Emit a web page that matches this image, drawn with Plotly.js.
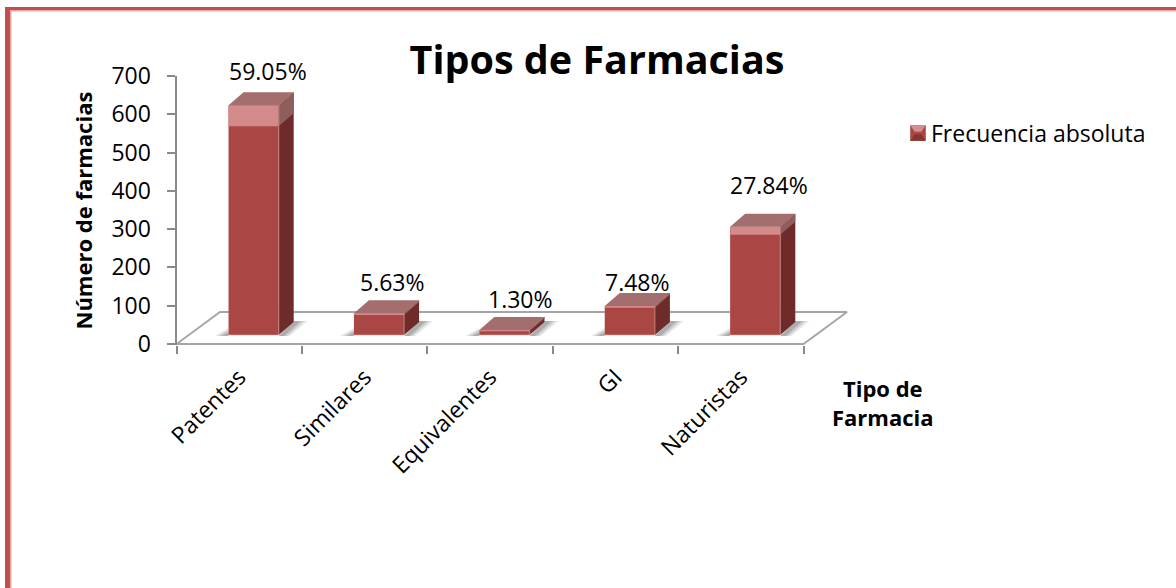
<!DOCTYPE html>
<html><head><meta charset="utf-8">
<script src="https://cdn.plot.ly/plotly-3.0.1.min.js"></script>
<style>html,body{margin:0;padding:0;background:#fff;overflow:hidden}</style>
</head><body><div id="chart" style="width:1176px;height:588px"></div>
<script>
const categories = ["Patentes","Similares","Equivalentes","GI","Naturistas"];
const values = [600, 57, 13, 76, 283];
const highlight = [55, 5, 3, 5, 21];
const percentLabels = ["59.05%","5.63%","1.30%","7.48%","27.84%"];
const seriesName = "Frecuencia absoluta";
const yTicks = [0,100,200,300,400,500,600,700];

const W=1176,H=588, axL=176.5, axR=850, y0=344, y700=76, unitX=125.4;
const unitY=(y0-y700)/700, yMin=-3;
const px2x=p=>p/unitX, px2y=p=>p/unitY;
const FONT='"Open Sans","Noto Sans",sans-serif';
const barW=0.4, barOff=-0.085, barBase=px2y(9);
const depthX=px2x(15), depthY=px2y(13);
const floorX=px2x(43.5), floorY=px2y(32);
const labelShift=[[29,-21],[28,-18],[30,-18],[22,-11],[28,-29]];

function poly(list){const x=[],y=[];list.forEach(p=>{p.forEach(q=>{x.push(q[0]);y.push(q[1]);});x.push(p[0][0]);y.push(p[0][1]);x.push(null);y.push(null);});return {x,y};}
function fillTrace(list,color,extra){const d=poly(list);return Object.assign({type:'scatter',mode:'lines',x:d.x,y:d.y,fill:'toself',fillcolor:color,line:{width:0,color:color},hoverinfo:'skip',showlegend:false},extra||{});}

const left=i=>i+barOff, right=i=>i+barOff+barW;
const traces=[];
// floor
traces.push({type:'scatter',mode:'lines',x:[-0.5,4.5,4.5+floorX,-0.5+floorX,-0.5],y:[0,0,floorY,floorY,0],line:{color:'#a6a6a6',width:2},hoverinfo:'skip',showlegend:false});
// soft shadows on the floor, layered
[[1,0.14],[0.75,0.2],[0.5,0.26]].forEach(([s,o])=>{
 const shapes=[];
 categories.forEach((c,i)=>{
  const b=barBase-px2y(1);
  const lx=left(i),rx=right(i);
  shapes.push([[lx-px2x(14*s),b],[lx,b],[lx,b+px2y(8*s)]]);
  shapes.push([[rx,b],[rx+px2x(11*s),b],[rx+px2x(15+14*s),b+px2y(15)],[rx+px2x(15),b+px2y(15)]]);
 });
 traces.push(fillTrace(shapes,`rgba(90,90,90,${o})`));
});
// bars
const ov={xaxis:'x2',yaxis:'y2'};
traces.push(Object.assign({type:'bar',name:seriesName,x:categories.map((c,i)=>i),y:values,base:barBase,width:barW,offset:barOff,marker:{color:'#aa4643',line:{width:0}},hoverinfo:'y',showlegend:true},ov));
traces.push(Object.assign({type:'bar',x:categories.map((c,i)=>i),y:highlight,base:values.map((v,i)=>barBase+v-highlight[i]),width:barW,offset:barOff,marker:{color:'#d28b8a',line:{width:0}},hoverinfo:'skip',showlegend:false},ov));
traces.push(fillTrace(values.map((v,i)=>[[right(i),barBase],[right(i)+depthX,barBase+depthY],[right(i)+depthX,barBase+depthY+v],[right(i),barBase+v]]),'#6f2b29',ov));
traces.push(fillTrace(values.map((v,i)=>{const h=highlight[i];return [[right(i),barBase+v-h],[right(i)+depthX,barBase+depthY+v-h],[right(i)+depthX,barBase+depthY+v],[right(i),barBase+v]];}),'#8e5e5d',ov));
traces.push(fillTrace(values.map((v,i)=>[[left(i),barBase+v],[right(i),barBase+v],[right(i)+depthX,barBase+depthY+v],[left(i)+depthX,barBase+depthY+v]]),'#a36e6d',ov));
// bevel edges of the front faces
const ex=[],ey=[];
values.forEach((v,i)=>{ex.push(left(i),right(i),right(i),null);ey.push(barBase,barBase,barBase+v,null);});
traces.push(Object.assign({type:'scatter',mode:'lines',x:ex,y:ey,line:{color:'rgba(235,170,165,0.35)',width:1.5},hoverinfo:'skip',showlegend:false},ov));

const xr=[-0.5,-0.5+(axR-axL)/unitX], yr=[yMin,700];
const xdom=[axL/W,axR/W], ydom=[1-(y0-yMin*unitY)/H,1-y700/H];
const annotations=percentLabels.map((t,i)=>({xref:'x2',yref:'y2',x:i,y:barBase+depthY+values[i],text:t,showarrow:false,xanchor:'center',yanchor:'middle',xshift:labelShift[i][0],yshift:-labelShift[i][1],font:{family:FONT,size:23,color:'#000'}}));
annotations.push({xref:'paper',yref:'paper',x:883/W,y:1-402/H,text:'<b>Tipo de<br>Farmacia</b>',showarrow:false,align:'center',xanchor:'center',yanchor:'middle',font:{family:FONT,size:22,color:'#000'}});

const border='#c0504d',edge='#e6a8a6';
const rect=(x0,y0_,x1,y1,c)=>({type:'rect',xref:'paper',yref:'paper',x0:x0/W,x1:x1/W,y0:1-y0_/H,y1:1-y1/H,fillcolor:c,line:{width:0},layer:'above'});
const shapes=[rect(10,10,W,11.5,edge),rect(10,10,11.5,H,edge),rect(5,7,W,10,border),rect(5,7,10,H,border)];

const layout={width:W,height:H,margin:{l:0,r:0,t:0,b:0,pad:0},paper_bgcolor:'#fff',plot_bgcolor:'rgba(0,0,0,0)',barmode:'overlay',
 title:{text:'<b>Tipos de Farmacias</b>',x:597/W,y:1-60/H,xref:'paper',yref:'paper',xanchor:'center',yanchor:'middle',font:{family:FONT,size:39.5,color:'#000'}},
 xaxis:{domain:xdom,range:xr,tickmode:'array',tickvals:categories.map((c,i)=>i),ticktext:categories,tickangle:-45,ticks:'',showgrid:false,zeroline:false,showline:false,fixedrange:true,automargin:false,ticklabelstandoff:13,tickfont:{family:FONT,size:23,color:'#000'},
  minor:{tickmode:'array',tickvals:[-0.5,0.5,1.5,2.5,3.5,4.5],ticks:'outside',ticklen:8,tickwidth:2,tickcolor:'#8a8a8a',showgrid:false}},
 yaxis:{domain:ydom,range:yr,tickmode:'array',tickvals:yTicks,ticks:'outside',ticklen:8,tickwidth:2,tickcolor:'#8a8a8a',showline:true,linecolor:'#8a8a8a',linewidth:2,showgrid:false,zeroline:false,fixedrange:true,automargin:false,ticklabelstandoff:11,tickfont:{family:FONT,size:23,color:'#000'},
  title:{text:'<b>Número de farmacias</b>',standoff:13,font:{family:FONT,size:22,color:'#000'}}},
 xaxis2:{overlaying:'x',range:xr,visible:false,fixedrange:true},
 yaxis2:{overlaying:'y',range:yr,visible:false,fixedrange:true},
 showlegend:true,
 legend:{x:891/W,y:1-133/H,xanchor:'left',yanchor:'middle',bgcolor:'rgba(0,0,0,0)',font:{family:FONT,size:23,color:'#000'}},
 annotations,shapes};
Plotly.newPlot('chart',traces,layout,{displayModeBar:false,staticPlot:true}).then(()=>{
 // bevelled legend key, as in the reference
 const g=document.querySelector('#chart .legend .legendpoints');
 if(!g)return;
 g.setAttribute('transform','translate(1,0) scale(1.3)');
 const ns='http://www.w3.org/2000/svg';
 [['M-6,-6H6L2.5,-1H-2.5Z','#d48f8e'],['M-6,6H6L2.5,1H-2.5Z','#8a3431']].forEach(([d,c])=>{
  const p=document.createElementNS(ns,'path');
  p.setAttribute('d',d);p.setAttribute('fill',c);p.setAttribute('transform','translate(20,0)');g.appendChild(p);
 });
});
</script></body></html>
